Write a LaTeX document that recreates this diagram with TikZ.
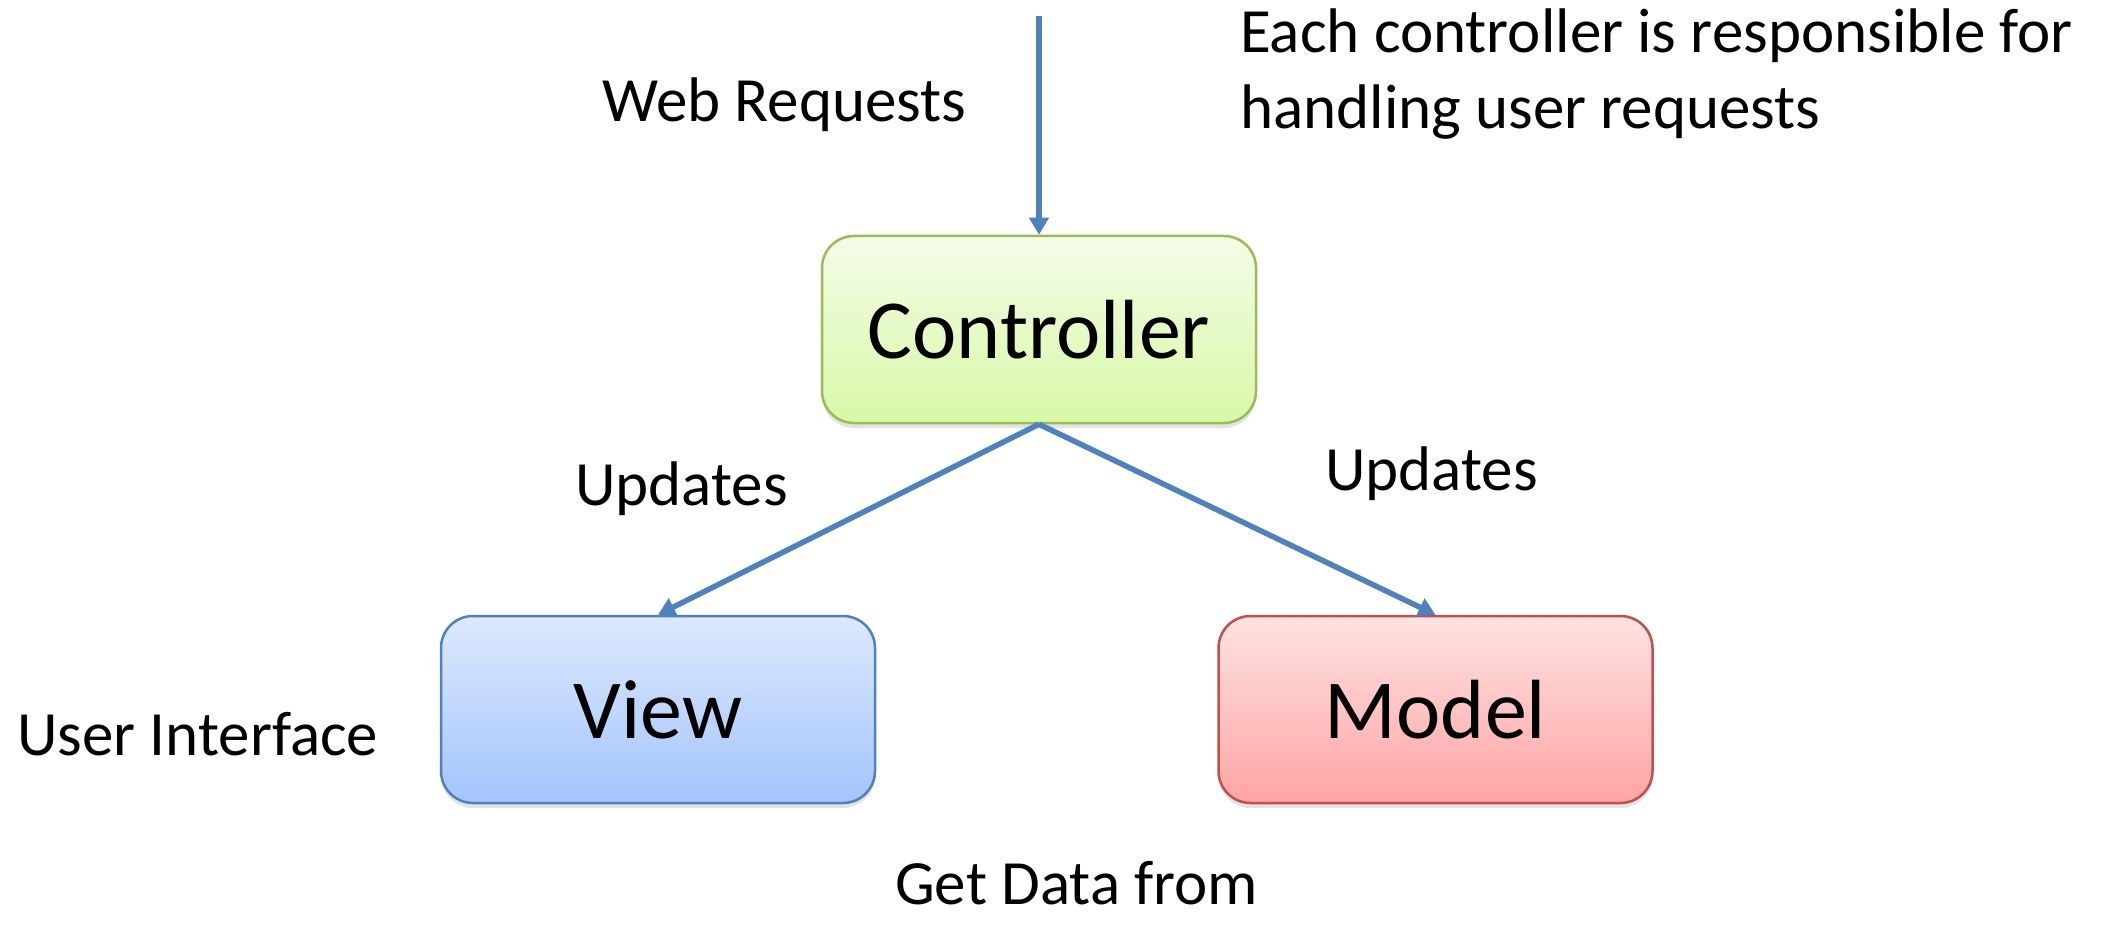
\documentclass[tikz,border=0pt]{standalone}
\usepackage{fontspec}
\setmainfont{Carlito}
\usetikzlibrary{arrows.meta,shadows}

\definecolor{linkblue}{RGB}{79,129,189}
\definecolor{ctrltop}{RGB}{244,252,232}
\definecolor{ctrlbot}{RGB}{216,248,166}
\definecolor{ctrledge}{RGB}{155,187,89}
\definecolor{viewtop}{RGB}{221,233,252}
\definecolor{viewbot}{RGB}{163,196,253}
\definecolor{viewedge}{RGB}{79,129,189}
\definecolor{modeltop}{RGB}{255,226,226}
\definecolor{modelbot}{RGB}{255,164,164}
\definecolor{modeledge}{RGB}{192,80,77}

\tikzset{
  box/.style={rounded corners=32pt, line width=2.5pt,
    minimum width=434pt, minimum height=187pt, inner sep=0pt,
    font=\fontsize{84}{100}\selectfont,
    drop shadow={opacity=0.22, shadow xshift=0pt, shadow yshift=-5pt}},
  ctrlbox/.style={box, draw=ctrledge, top color=ctrltop, bottom color=ctrlbot},
  viewbox/.style={box, draw=viewedge, top color=viewtop, bottom color=viewbot},
  modelbox/.style={box, draw=modeledge, top color=modeltop, bottom color=modelbot},
  label/.style={inner sep=0pt, anchor=base west, font=\fontsize{63}{76}\selectfont},
  link/.style={draw=linkblue, line width=5.5pt,
    -{Triangle[length=17pt,width=19pt]}}
}

\begin{document}
\begin{tikzpicture}[x=1pt, y=-1pt]
  \useasboundingbox (0,0) rectangle (2107,925);

  % the three components
  \node[ctrlbox]  (ctrl)  at (1039,329.5) {Controller};
  \node[viewbox]  (view)  at (658,709.5)  {View};
  \node[modelbox] (model) at (1435.5,709.5) {Model};

  % incoming requests
  \coordinate (in) at (1039,16);
  \draw[link] (in) -- (ctrl.north);

  % controller drives view and model
  \draw[link] (ctrl.south) -- (view.north);
  \draw[link] (ctrl.south) -- (model.north);

  % labels (a multi-line node sits on the baseline of its last line)
  \node[label] (web) at (602,122) {Web Requests};
  \node[label, align=left] (note) at (1240,129)
    {Each controller is responsible for\\handling user requests};
  \node[label] (updl) at (575,505) {Updates};
  \node[label] (updr) at (1325,490) {Updates};
  \node[label] (ui) at (17,755) {User Interface};
  \node[label] (get) at (895,904) {Get Data from};
\end{tikzpicture}
\end{document}
